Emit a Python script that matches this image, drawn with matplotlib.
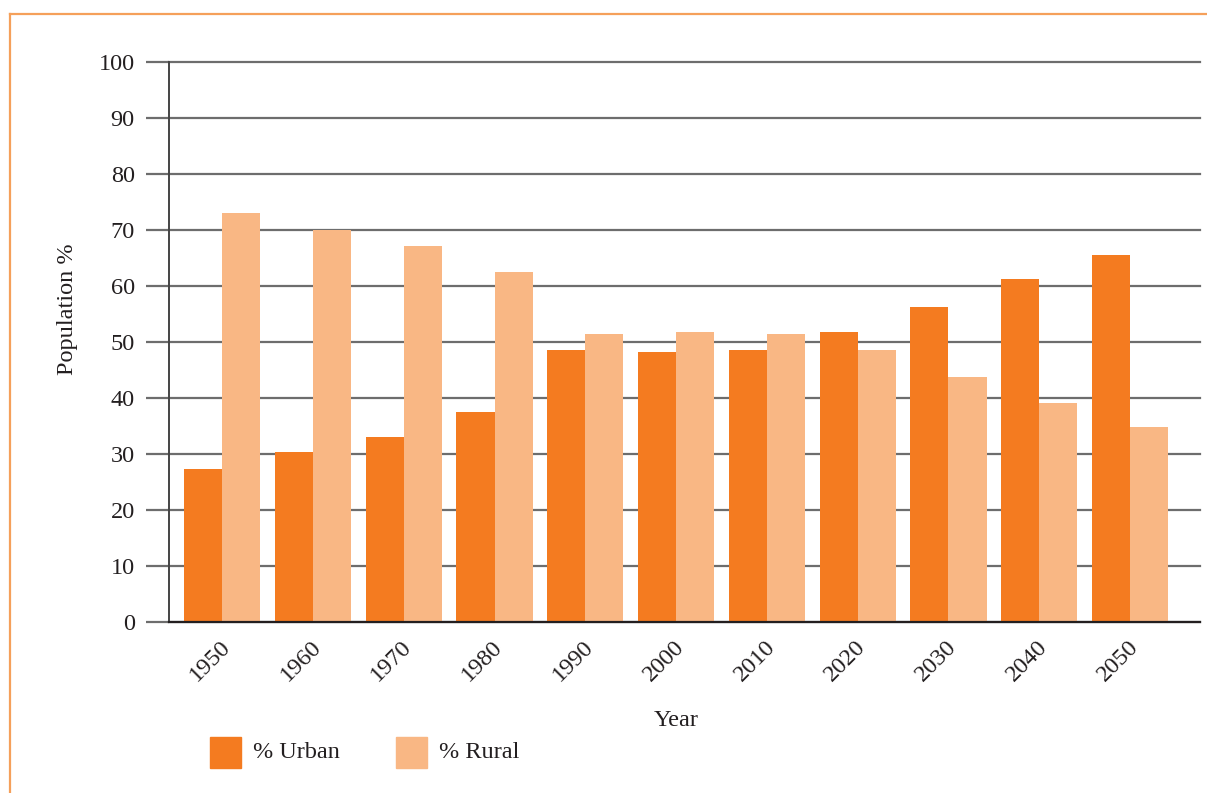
import matplotlib
matplotlib.use("Agg")
import matplotlib.pyplot as plt
import matplotlib.transforms as mtransforms
from matplotlib.patches import Rectangle
from matplotlib.lines import Line2D
import numpy as np

years = ["1950", "1960", "1970", "1980", "1990", "2000", "2010", "2020", "2030", "2040", "2050"]
urban = [27.3, 30.4, 33.0, 37.5, 48.6, 48.2, 48.6, 51.8, 56.2, 61.3, 65.5]
rural = [73.0, 70.0, 67.1, 62.5, 51.4, 51.8, 51.4, 48.6, 43.8, 39.1, 34.8]
yticks = [0, 10, 20, 30, 40, 50, 60, 70, 80, 90, 100]

URBAN_C = "#F47B20"
RURAL_C = "#F9B784"
BORDER_C = "#F5A05A"
TXT_C = "#231F20"
FS = 17.5

plt.rcParams['font.family'] = ['Liberation Serif', 'DejaVu Serif']

W, H = 1207, 793
fig = plt.figure(figsize=(W / 100, H / 100), dpi=100)

# axes in pixel coords: left 169, right 1200, top 62, bottom 622
ax = fig.add_axes([169 / W, 1 - 622 / H, (1200 - 169) / W, (622 - 62) / H])

x = np.arange(len(years))
bw = 0.42
ax.bar(x - bw / 2, urban, width=bw, color=URBAN_C, zorder=3, label="% Urban")
ax.bar(x + bw / 2, rural, width=bw, color=RURAL_C, zorder=3, label="% Rural")

ax.set_xlim(-0.585, len(years) - 1 + 0.77)
ax.set_ylim(0, 100)
ax.set_yticks(yticks)
ax.set_yticklabels([str(t) for t in yticks], fontsize=FS, color=TXT_C)
ax.yaxis.grid(True, color="#6d6d6d", linewidth=1.6, zorder=1)
for gl in ax.get_ygridlines():
    gl.set_clip_on(False)
ax.tick_params(axis='y', length=16.6, width=1.6, color="#6d6d6d", pad=8)

ax.set_xticks(x)
ax.set_xticklabels(years, fontsize=FS, color=TXT_C, rotation=45,
                   ha='right', va='center', rotation_mode='anchor')
ax.tick_params(axis='x', length=0, pad=16)
offset = mtransforms.ScaledTranslation(5 / 100, 0, fig.dpi_scale_trans)
for lbl in ax.get_xticklabels():
    lbl.set_transform(lbl.get_transform() + offset)

for s in ['top', 'right']:
    ax.spines[s].set_visible(False)
ax.spines['left'].set_color("#444444")
ax.spines['left'].set_linewidth(1.4)
ax.spines['bottom'].set_color(TXT_C)
ax.spines['bottom'].set_linewidth(1.6)
ax.spines['bottom'].set_zorder(4)

fig.text(67 / W, 1 - 309 / H, "Population %", rotation=90, ha='center', va='center',
         fontsize=FS, color=TXT_C)
fig.text(676 / W, 1 - 720 / H, "Year", ha='center', va='center',
         fontsize=FS, color=TXT_C)

# legend drawn manually in figure pixel coordinates
def legend_item(px, label, color):
    fig.patches.append(Rectangle((px / W, 1 - 768 / H), 31 / W, 31 / H,
                                 transform=fig.transFigure, color=color, figure=fig))
    fig.text((px + 43) / W, 1 - 753 / H, label, ha='left', va='center',
             fontsize=FS, color=TXT_C)

legend_item(210, "% Urban", URBAN_C)
legend_item(396, "% Rural", RURAL_C)

# orange frame lines
fig.add_artist(Line2D([10 / W, 1.0], [1 - 14 / H, 1 - 14 / H], transform=fig.transFigure,
                      color=BORDER_C, linewidth=1.6))
fig.add_artist(Line2D([10 / W, 10 / W], [1 - 14 / H, 0], transform=fig.transFigure,
                      color=BORDER_C, linewidth=1.6))

fig.savefig("out.png", dpi=100)
